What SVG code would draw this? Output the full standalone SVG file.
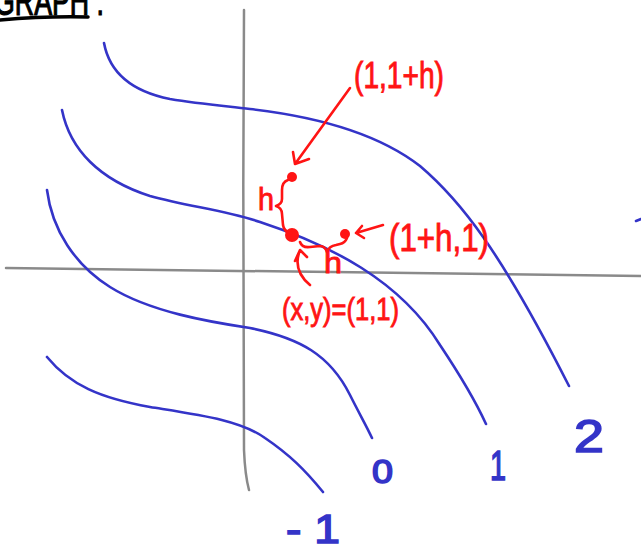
<svg xmlns="http://www.w3.org/2000/svg" width="641" height="552" viewBox="0 0 641 552">
<style>
.ax{fill:none;stroke:#8a8a8a;stroke-width:2.5;stroke-linecap:round}
.cv{fill:none;stroke:#3434c8;stroke-width:2.6;stroke-linecap:round}
.rd{fill:none;stroke:#ff1414;stroke-width:2.6;stroke-linecap:round;stroke-linejoin:round}
.rt{fill:#ff1414;stroke:#ff1414;stroke-width:0.9;font-family:"Liberation Sans",Arial,sans-serif}
.bt{fill:#3434c8;stroke:#3434c8;stroke-width:1.6;font-family:"Liberation Sans",Arial,sans-serif}
</style>
<rect width="641" height="552" fill="#ffffff"/>
<g id="title">
<text x="-6" y="15" font-family="'Liberation Sans',Arial,sans-serif" font-size="40" textLength="110" lengthAdjust="spacingAndGlyphs" fill="#000" stroke="#000" stroke-width="1.2">GRAPH :</text>
<path d="M0,20 Q45,16 88,17" fill="none" stroke="#000" stroke-width="3.5" stroke-linecap="round"/>
</g>
<g id="axes">
<path class="ax" d="M244,10 C243,150 243,350 244,450 Q245,475 249,490"/>
<path class="ax" d="M6,268 Q300,272 641,276"/>
</g>
<g id="curves">
<path class="cv" d="M104,43 C110,75 135,92 170,99 C200,104 225,106 250,109 C320,117 380,135 420,166 C460,200 500,250 569,386"/>
<path class="cv" d="M62,110 C70,150 100,180 150,196 C190,207 225,210 260,222 C330,245 400,280 440,345 C460,375 475,400 486,424"/>
<path class="cv" d="M47,190 C52,230 75,265 110,287 C150,312 210,322 250,328 C300,338 330,355 350,395 C360,415 366,425 372,438"/>
<path class="cv" d="M47,357 C70,385 100,398 150,407 C200,415 240,420 265,438 C290,455 305,470 323,492"/>
<path class="cv" d="M636,221 L641,219"/>
</g>
<g id="labels">
<text class="bt" x="574" y="452" font-size="46" textLength="30" lengthAdjust="spacingAndGlyphs">2</text>
<text class="bt" x="490" y="480" font-size="42" textLength="16" lengthAdjust="spacingAndGlyphs">1</text>
<text class="bt" x="372" y="483" font-size="33" textLength="21" lengthAdjust="spacingAndGlyphs">0</text>
<text class="bt" x="286" y="543" font-size="41" textLength="54" lengthAdjust="spacingAndGlyphs">- 1</text>
</g>
<g id="point-1-1h">
<circle cx="292" cy="177" r="5" fill="#ff1414"/>
<path class="rd" d="M350,88 L295,164 M293,152 L295,164 L309,159"/>
<text class="rt" x="354" y="88" font-size="36" textLength="90" lengthAdjust="spacingAndGlyphs">(1,1+h)</text>
</g>
<g id="point-1-1">
<circle cx="292" cy="235" r="7" fill="#ff1414"/>
<path class="rd" d="M310,285 Q292,270 300,250 M295,261 L300,250 L307,257"/>
<text class="rt" x="282" y="320" font-size="32" textLength="117" lengthAdjust="spacingAndGlyphs">(x,y)=(1,1)</text>
</g>
<g id="point-1h-1">
<circle cx="345" cy="234" r="5" fill="#ff1414"/>
<path class="rd" d="M383,225 L356,233 M362,226 L356,233 L364,238"/>
<text class="rt" x="389" y="251" font-size="38" textLength="100" lengthAdjust="spacingAndGlyphs">(1+h,1)</text>
</g>
<g id="brace-h-vertical">
<path class="rd" d="M288,180 Q282,182 282,190 L282,199 Q282,204 276,206 Q282,208 282,214 L283,225 Q284,232 291,233"/>
<text class="rt" x="258" y="210" font-size="32" textLength="16" lengthAdjust="spacingAndGlyphs">h</text>
</g>
<g id="brace-h-horizontal">
<path class="rd" d="M300,242 Q302,248 310,247 L320,246 Q325,246 327,252 Q329,246 336,245 L340,244 Q345,243 347,238"/>
<text class="rt" x="324" y="273" font-size="30" textLength="18" lengthAdjust="spacingAndGlyphs">h</text>
</g>
</svg>
